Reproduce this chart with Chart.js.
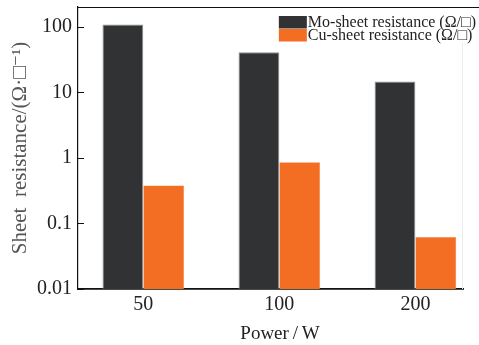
<!DOCTYPE html>
<html><head><meta charset="utf-8">
<script src="https://cdn.jsdelivr.net/npm/chart.js@4"></script>
<style>html,body{margin:0;padding:0;background:#fff}#wrap{width:479px;height:345px;position:relative}</style>
</head><body><div id="wrap"><canvas id="c"></canvas></div>
<script>
const categories = ['50', '100', '200'];
const moSheet = [108, 41, 14.6];
const cuSheet = [0.38, 0.86, 0.062];
const yTicks = [0.01, 0.1, 1, 10, 100];
const seriesLabels = ['Mo-sheet resistance (\u03A9/\u25A1)', 'Cu-sheet resistance (\u03A9/\u25A1)'];
const seriesColors = ['#303233', '#f36d22'];
const xTitle = '\u2003Power\u2009/\u2009W';
const yTitle = 'Sheet  resistance/(\u03A9\u00B7\u25A1\u207B\u00B9)';

const serif = "'Liberation Serif', 'DejaVu Serif', serif";

const framePlugin = {
  id: 'frame',
  afterDraw(chart) {
    const {ctx, chartArea: a} = chart;
    ctx.save();
    ctx.strokeStyle = '#111';
    ctx.lineWidth = 1.2;
    ctx.beginPath();
    ctx.moveTo(a.left, a.top + 0.5);
    ctx.lineTo(chart.width, a.top + 0.5);
    ctx.stroke();
    ctx.strokeStyle = '#ececec';
    ctx.lineWidth = 1;
    ctx.beginPath();
    ctx.moveTo(a.right - 0.5, a.top + 35);
    ctx.lineTo(a.right - 0.5, a.bottom);
    ctx.stroke();
    // inward ticks on y axis
    const ys = chart.scales.y;
    ctx.strokeStyle = '#111';
    ctx.lineWidth = 1;
    ys.ticks.forEach(t => {
      const py = Math.round(ys.getPixelForValue(t.value)) + 0.5;
      ctx.beginPath();
      ctx.moveTo(a.left, py);
      ctx.lineTo(a.left + 6, py);
      ctx.stroke();
    });
    // legend
    ctx.font = '16px ' + serif;
    ctx.textBaseline = 'middle';
    const widths = chart.data.datasets.map(d => ctx.measureText(d.label).width);
    const tw = Math.max(...widths);
    const boxW = 28, boxH = 12.5;
    const bx = chart.width - 3 - tw - boxW - 1;
    chart.data.datasets.forEach((d, i) => {
      const by = a.top + 9 + i * (boxH + 0.5);
      ctx.fillStyle = d.backgroundColor;
      ctx.fillRect(bx, by, boxW, boxH);
      ctx.fillStyle = '#222';
      ctx.fillText(d.label, bx + boxW + 1, by + boxH / 2 + 1);
    });
    ctx.restore();
  }
};

new Chart(document.getElementById('c'), {
  type: 'bar',
  data: {
    datasets: [
      {label: seriesLabels[0], data: categories.map((c, i) => ({x: i, y: moSheet[i]})),
       backgroundColor: seriesColors[0], borderColor: '#8e9090', borderWidth: 1, borderSkipped: 'bottom'},
      {label: seriesLabels[1], data: categories.map((c, i) => ({x: i, y: cuSheet[i]})),
       backgroundColor: seriesColors[1], borderColor: '#f58a4c', borderWidth: 0.5, borderSkipped: 'bottom'}
    ]
  },
  options: {
    responsive: true,
    maintainAspectRatio: false,
    animation: false,
    categoryPercentage: 0.6,
    barPercentage: 1.0,
    layout: {padding: {top: 7, right: 16, left: 0, bottom: 0}},
    plugins: {legend: {display: false}, tooltip: {enabled: false}},
    scales: {
      x: {
        type: 'linear',
        offset: false,
        min: -0.48, max: 2.35,
        afterBuildTicks: s => { s.ticks = categories.map((c, i) => ({value: i})); },
        afterFit: s => { s.height = 56; s.paddingLeft = 0; s.paddingRight = 0; },
        ticks: {callback: v => categories[v], font: {family: serif, size: 20}, color: '#222', padding: 4, maxRotation: 0},
        grid: {display: false, drawTicks: false},
        border: {display: true, color: '#111', width: 1.8},
        title: {display: true, text: xTitle, font: {family: serif, size: 19, lineHeight: 1}, color: '#222', padding: {top: 0, bottom: 1}}
      },
      y: {
        type: 'logarithmic',
        min: 0.01, max: 200,
        afterBuildTicks: s => { s.ticks = yTicks.map(v => ({value: v})); },
        afterFit: s => { s.width = 78; s.paddingTop = 0; s.paddingBottom = 0; },
        ticks: {callback: v => String(v), font: {family: serif, size: 20}, color: '#222', padding: 6},
        grid: {display: false, drawTicks: false},
        border: {display: true, color: '#111', width: 1.2},
        title: {display: true, text: yTitle, font: {family: serif, size: 21}, color: '#555', padding: {top: 8, bottom: 0}}
      }
    }
  },
  plugins: [framePlugin]
});
</script></body></html>
